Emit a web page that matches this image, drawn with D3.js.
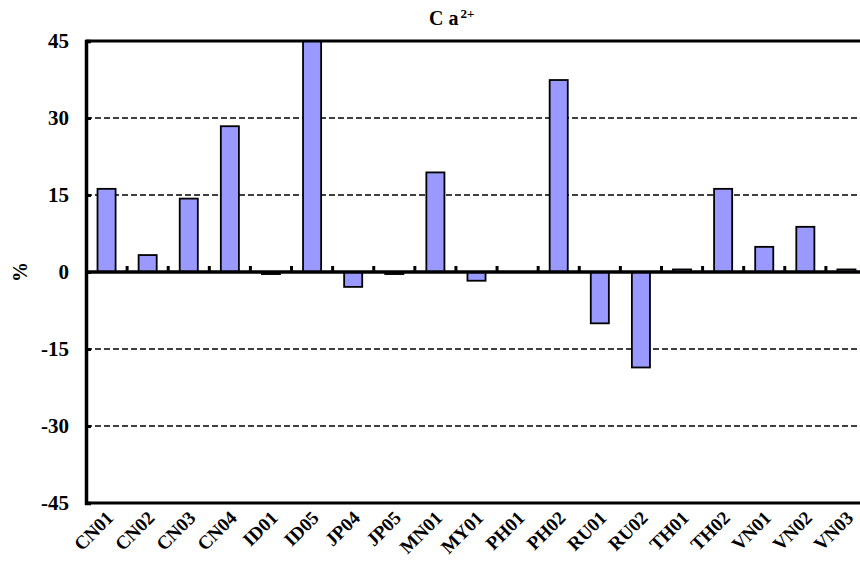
<!DOCTYPE html>
<html><head><meta charset="utf-8">
<script src="https://cdn.jsdelivr.net/npm/d3@7"></script>
<style>body{margin:0;background:#fff}svg{display:block}text{font-family:"Liberation Serif","Times New Roman",serif;font-weight:bold}</style>
</head><body>
<script>
const categories = ["CN01","CN02","CN03","CN04","ID01","ID05","JP04","JP05","MN01","MY01","PH01","PH02","RU01","RU02","TH01","TH02","VN01","VN02","VN03"];
const values = [16.2,3.3,14.3,28.4,-0.4,52,-2.9,-0.4,19.4,-1.7,0,37.4,-10.0,-18.6,0.5,16.2,4.9,8.8,0.5];
const yTicks = [-45,-30,-15,0,15,30,45];
const title = "C a";
const titleSup = "2+";
const yLabel = "%";

(function(){
const W = 860, H = 569;
const pLeft = 86, pTop = 41, pBottom = 503, pRight = 867;
const svg = d3.select("body").append("svg").attr("width", W).attr("height", H);

const x = d3.scaleBand().domain(categories).range([pLeft, pRight]).paddingInner(0).paddingOuter(0);
const y = d3.scaleLinear().domain([-45, 45]).range([pBottom, pTop]);

svg.append("defs").append("clipPath").attr("id","clip")
  .append("rect").attr("x", pLeft).attr("y", pTop).attr("width", pRight-pLeft).attr("height", pBottom-pTop);

// gridlines
svg.append("g").selectAll("line").data(yTicks.filter(d => d !== 0 && Math.abs(d) !== 45)).join("line")
  .attr("x1", pLeft).attr("x2", W).attr("y1", d => y(d)).attr("y2", d => y(d))
  .attr("stroke", "#000").attr("stroke-width", 1.5).attr("stroke-dasharray", "6,3");

// bars
const bw = x.bandwidth() * 0.44;
svg.append("g").attr("clip-path", "url(#clip)").selectAll("rect").data(values).join("rect")
  .attr("x", (d,i) => x(categories[i]) + x.bandwidth()/2 - bw/2)
  .attr("width", bw)
  .attr("y", d => y(Math.max(0, d)))
  .attr("height", d => Math.abs(y(d) - y(0)))
  .attr("fill", "#9999FF").attr("stroke", "#000").attr("stroke-width", 1.8);

// frame lines
svg.append("line").attr("x1", pLeft).attr("x2", W).attr("y1", pTop).attr("y2", pTop).attr("stroke","#000").attr("stroke-width",3);
svg.append("line").attr("x1", pLeft).attr("x2", W).attr("y1", pBottom).attr("y2", pBottom).attr("stroke","#000").attr("stroke-width",3);

// y axis
const yAxis = d3.axisLeft(y).tickValues(yTicks).tickSize(-5).tickPadding(17).tickFormat(d => String(d));
const gy = svg.append("g").attr("transform", `translate(${pLeft},0)`).call(yAxis);
gy.attr("font-size", null).attr("font-family", null);
gy.select(".domain").attr("stroke-width", 3.5);
gy.selectAll(".tick line").attr("stroke-width", 3);
gy.selectAll(".tick text").attr("fill", "#000").attr("font-size", 21)
  .attr("font-family", "'Liberation Serif','Times New Roman',serif").attr("font-weight", "bold");

// zero axis with ticks between categories
svg.append("line").attr("x1", pLeft).attr("x2", W).attr("y1", y(0)).attr("y2", y(0)).attr("stroke","#000").attr("stroke-width",3.5);
svg.append("g").selectAll("line").data(categories.slice(1)).join("line")
  .attr("x1", d => x(d)).attr("x2", d => x(d)).attr("y1", y(0)).attr("y2", y(0) - 6)
  .attr("stroke", "#000").attr("stroke-width", 3);

// x labels rotated -45deg
svg.append("g").selectAll("text").data(categories).join("text")
  .attr("transform", d => `translate(${x(d) + x.bandwidth()/2 + 8},${pBottom + 16}) rotate(-45)`)
  .attr("text-anchor", "end").attr("fill", "#000").attr("font-size", 19)
  .text(d => d);

// title
const t = svg.append("text").attr("x", 429).attr("y", 25).attr("text-anchor", "start").attr("font-size", 20);
t.append("tspan").text(title);
t.append("tspan").attr("font-size", 13).attr("dy", -7).attr("dx", 2).text(titleSup);

// y label rotated -90deg
svg.append("text").attr("transform", `translate(27,${y(0)}) rotate(-90)`).attr("text-anchor","middle")
  .attr("font-size", 20).text(yLabel);
})();
</script>
</body></html>
